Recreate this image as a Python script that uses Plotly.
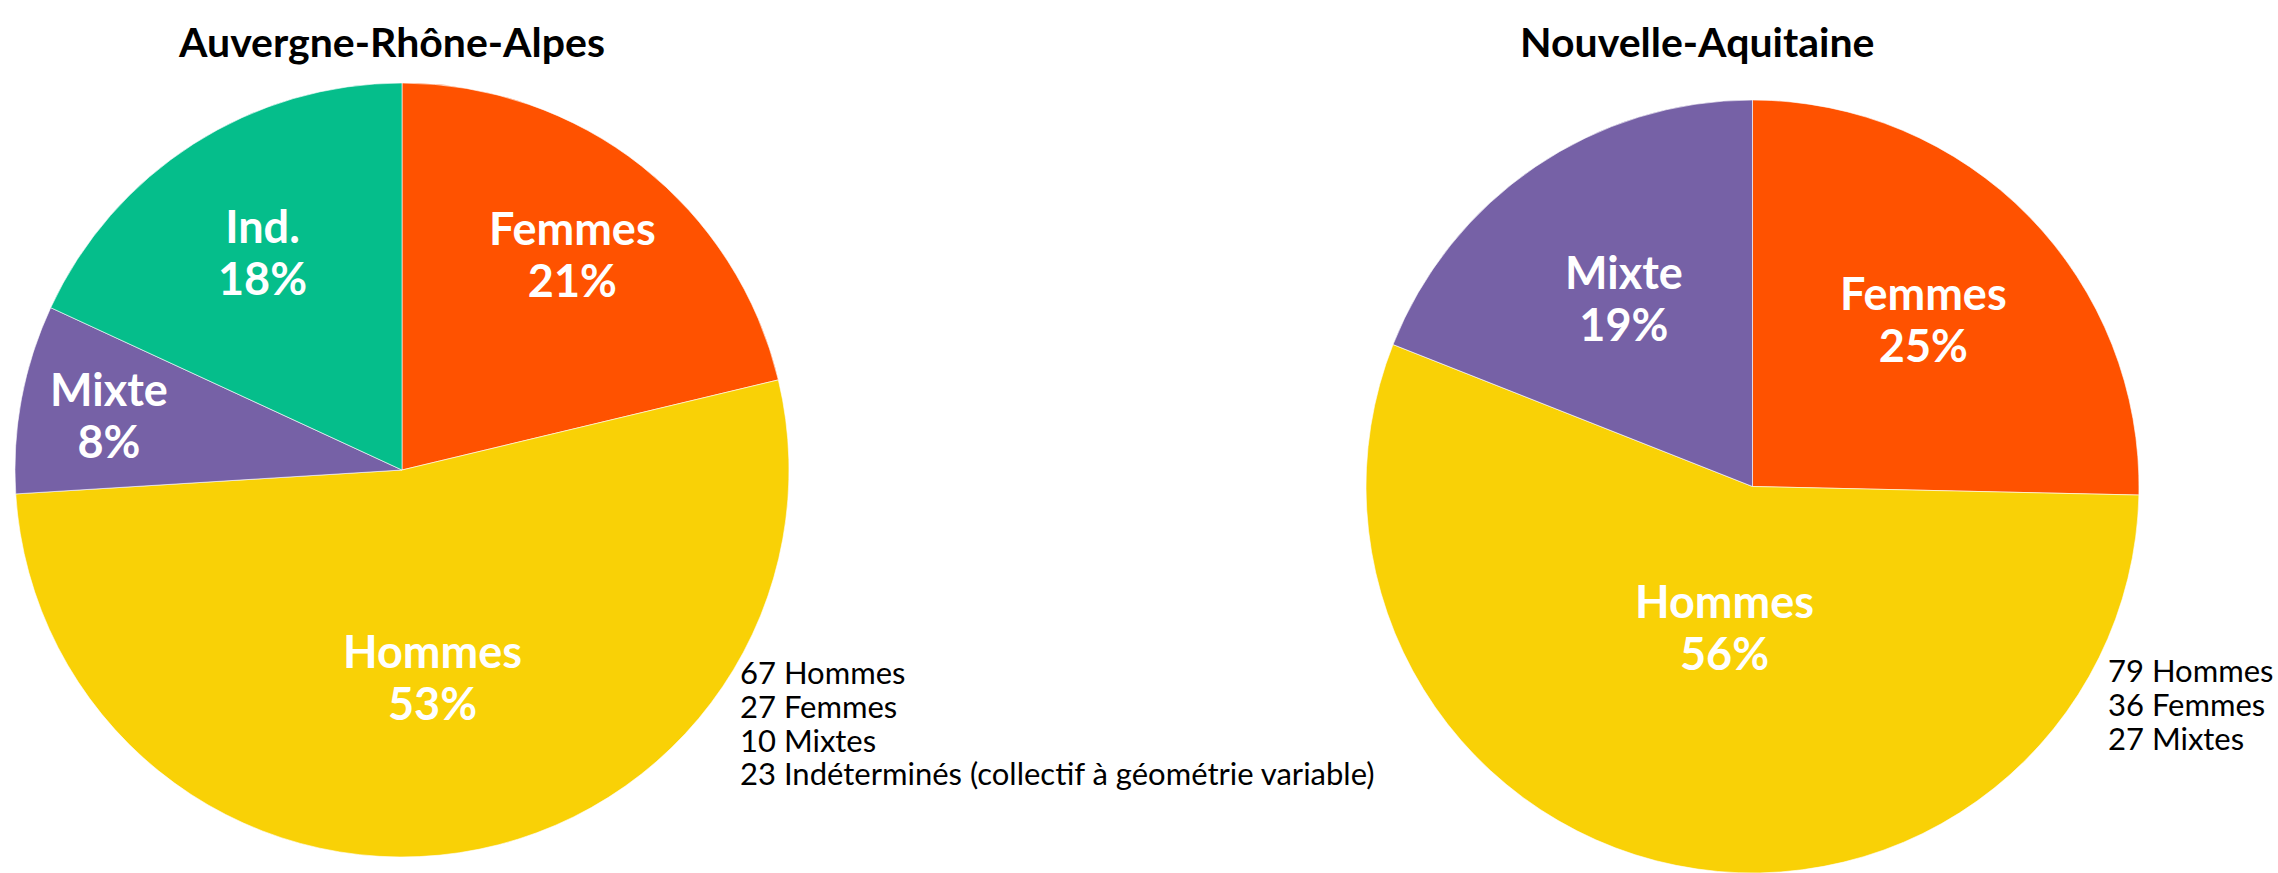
import math
import plotly.graph_objects as graph_objects

W, H = 2278, 873

# données
ara_labels = ["Femmes", "Hommes", "Mixte", "Ind."]
ara_values = [27, 67, 10, 23]
ara_notes = ["67 Hommes", "27 Femmes", "10 Mixtes",
             "23 Indéterminés (collectif à géométrie variable)"]

na_labels = ["Femmes", "Hommes", "Mixte"]
na_values = [36, 79, 27]
na_notes = ["79 Hommes", "36 Femmes", "27 Mixtes"]

COLORS = {"Femmes": "#FF5200", "Hommes": "#F9D106", "Mixte": "#7661A6", "Ind.": "#05BE8B"}

# taille de base = interligne, taille du span = taille des glyphes
LABEL_FONT = dict(family="Lato", size=40, color="white", weight="bold")
NOTE_FONT = dict(family="Lato", size=26, color="black")
TITLE_FONT = dict(family="Lato", size=41, color="black", weight="bold")


def px_x(x):
    return x / W


def px_y(y):
    return 1 - y / H


def span(text, size):
    return "<span style='font-size:%dpx'>%s</span>" % (size, text)


fig = graph_objects.Figure()
annotations = []


def add_pie(labels, values, box, label_r):
    # box = (left, top, right, bottom) en pixels
    left, top, right, bottom = box
    fig.add_trace(graph_objects.Pie(
        labels=labels,
        values=values,
        sort=False,
        direction="clockwise",
        marker=dict(colors=[COLORS[l] for l in labels],
                    line=dict(color="rgba(255,255,255,0.6)", width=1)),
        textinfo="none",
        domain=dict(x=[px_x(left), px_x(right)], y=[px_y(bottom), px_y(top)]),
        hoverinfo="none",
        showlegend=False))

    # étiquettes sur la bissectrice de chaque part
    cx, cy = (left + right) / 2, (top + bottom) / 2
    r = min(right - left, bottom - top) / 2
    total = sum(values)
    cum = 0
    for lab, val, f in zip(labels, values, label_r):
        theta = 2 * math.pi * (cum + val / 2) / total
        cum += val
        x = cx + f * r * math.sin(theta)
        y = cy - f * r * math.cos(theta)
        txt = span(lab, 45) + "<br>" + span("%d%%" % round(100 * val / total), 45)
        annotations.append(dict(text=txt, x=px_x(x), y=px_y(y), font=LABEL_FONT))


add_pie(ara_labels, ara_values, (15, 83, 789, 857), [0.71, 0.54, 0.77, 0.67])
add_pie(na_labels, na_values, (1366, 100, 2139, 873), [0.62, 0.37, 0.59])

annotations.append(dict(text="<b>Auvergne-Rhône-Alpes</b>", x=px_x(391), y=px_y(41), font=TITLE_FONT))
annotations.append(dict(text="<b>Nouvelle-Aquitaine</b>", x=px_x(1697), y=px_y(41), font=TITLE_FONT))

annotations.append(dict(text="<br>".join(span(l, 31) for l in ara_notes),
                        x=px_x(738), y=px_y(722), xanchor="left", align="left", font=NOTE_FONT))
annotations.append(dict(text="<br>".join(span(l, 31) for l in na_notes),
                        x=px_x(2106), y=px_y(704), xanchor="left", align="left", font=NOTE_FONT))

for a in annotations:
    a.setdefault("xanchor", "center")
    a.update(xref="paper", yref="paper", yanchor="middle", showarrow=False)

fig.update_layout(
    width=W,
    height=H,
    autosize=False,
    margin=dict(l=0, r=0, t=0, b=0),
    paper_bgcolor="white",
    plot_bgcolor="white",
    annotations=annotations)

fig.write_html("out.html", config={"displayModeBar": False},
               post_script="document.body.style.margin='0';")
